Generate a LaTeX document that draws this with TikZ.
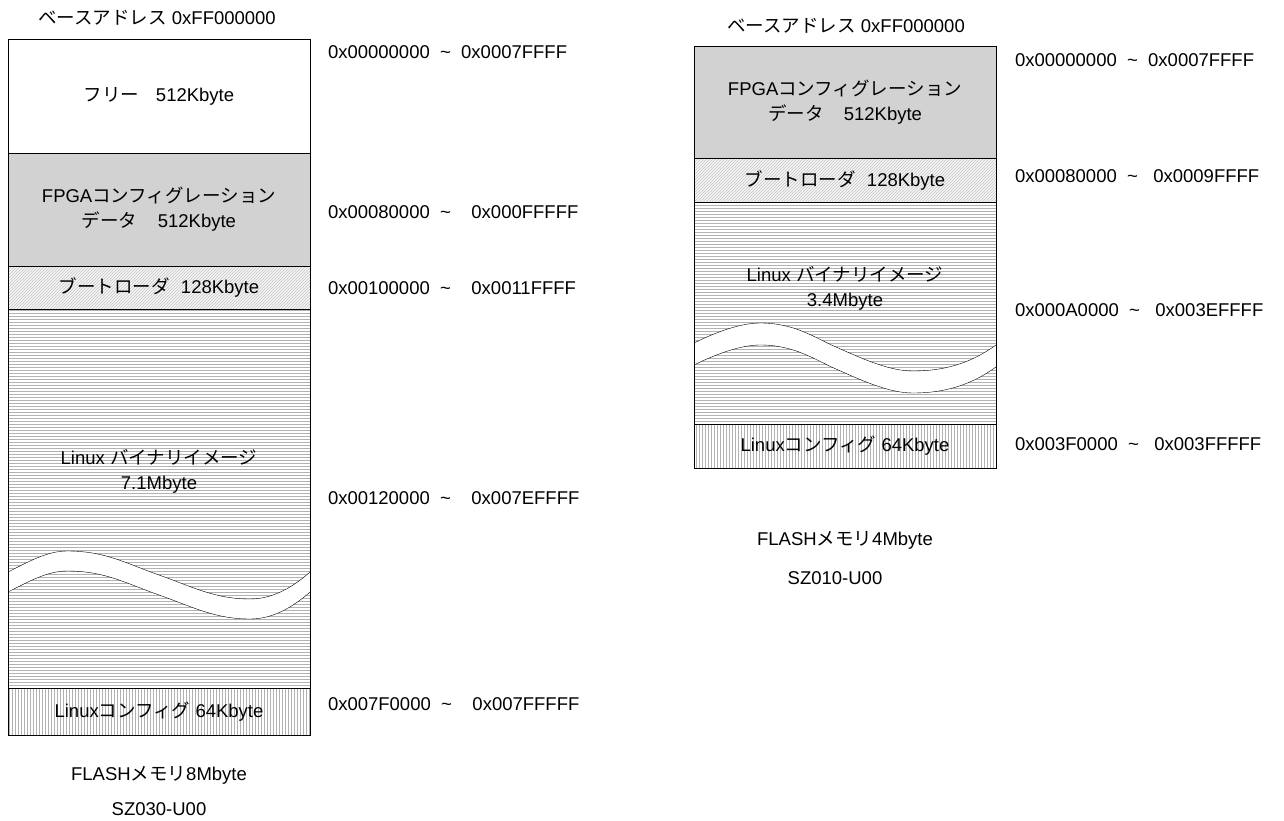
\documentclass[tikz,border=0pt]{standalone}
\usepackage{fontspec}
\setmainfont{Liberation Sans}
\newfontfamily\jp{Noto Sans CJK JP}
\usepackage{tikz}
\usetikzlibrary{patterns}

\begin{document}
\begin{tikzpicture}[
    x=1pt, y=-1pt,
    every node/.style={font=\fontsize{18.5}{25}\selectfont, inner sep=0pt, outer sep=0pt},
    area/.style={rectangle, draw, anchor=north west, minimum width=302pt, minimum height=#1, align=center},
    freearea/.style={fill=white},
    fpgaarea/.style={fill=gray!35},
    bootarea/.style={preaction={fill=gray!8}, pattern=north east lines, pattern color=gray!45},
    imagearea/.style={pattern=horizontal lines, pattern color=gray!60},
    configarea/.style={pattern=vertical lines, pattern color=gray!60},
    addr/.style={anchor=west},
    caption/.style={align=center}
]
    \useasboundingbox (0,0) rectangle (1284,821);

    % 8Mbyte map
    \node[caption] (lbase) at (157,18) {{\jp ベースアドレス} 0xFF000000};
    \node[area=114pt, freearea] (lfree) at (8,39) {{\jp フリー}\hspace{0.9em}512Kbyte};
    \node[area=113pt, fpgaarea] (lfpga) at (8,153) {FPGA{\jp コンフィグレーション}\\{\jp データ}\hspace{1.1em}512Kbyte};
    \node[area=43pt, bootarea] (lboot) at (8,266) {{\jp ブートローダ}\hspace{0.6em}128Kbyte};
    \node[area=379pt, imagearea] (limg) at (8,309) {};
    \node[area=47pt, configarea] (lconf) at (8,688) {Linux{\jp コンフィグ} 64Kbyte};
    \node[caption] (limgtxt) at (159,471) {Linux {\jp バイナリイメージ}\\7.1Mbyte};

    % wave
    \fill[white] (8,572) .. controls (28,562) and (47,551) .. (67,551)
        .. controls (105,551) and (125,563) .. (159,575)
        .. controls (193,587) and (215,599) .. (250,599)
        .. controls (272,599) and (292,588) .. (310,572)
        -- (310,592) .. controls (292,608) and (272,619) .. (250,619)
        .. controls (215,619) and (193,607) .. (159,595)
        .. controls (125,583) and (105,571) .. (67,571)
        .. controls (47,571) and (28,582) .. (8,592) -- cycle;
    \draw (8,572) .. controls (28,562) and (47,551) .. (67,551)
        .. controls (105,551) and (125,563) .. (159,575)
        .. controls (193,587) and (215,599) .. (250,599)
        .. controls (272,599) and (292,588) .. (310,572);
    \draw (8,592) .. controls (28,582) and (47,571) .. (67,571)
        .. controls (105,571) and (125,583) .. (159,595)
        .. controls (193,607) and (215,619) .. (250,619)
        .. controls (272,619) and (292,608) .. (310,592);
    \draw (limg.north west) rectangle (limg.south east);

    \node[addr] (la1) at (328,52) {0x00000000\ \ \textasciitilde\ \ 0x0007FFFF};
    \node[addr] (la2) at (328,212) {0x00080000\ \ \textasciitilde\ \ \ \ 0x000FFFFF};
    \node[addr] (la3) at (328,288) {0x00100000\ \ \textasciitilde\ \ \ \ 0x0011FFFF};
    \node[addr] (la4) at (328,498) {0x00120000\ \ \textasciitilde\ \ \ \ 0x007EFFFF};
    \node[addr] (la5) at (328,704) {0x007F0000\ \ \textasciitilde\ \ \ \ 0x007FFFFF};

    \node[caption] (lflash) at (159,775) {FLASH{\jp メモリ}8Mbyte};
    \node[caption] (lmodel) at (159,809) {SZ030-U00};

    % 4Mbyte map
    \node[caption] (rbase) at (846,26) {{\jp ベースアドレス} 0xFF000000};
    \node[area=112pt, fpgaarea] (rfpga) at (694,46) {FPGA{\jp コンフィグレーション}\\{\jp データ}\hspace{1.1em}512Kbyte};
    \node[area=44pt, bootarea] (rboot) at (694,158) {{\jp ブートローダ}\hspace{0.6em}128Kbyte};
    \node[area=222pt, imagearea] (rimg) at (694,202) {};
    \node[area=44pt, configarea] (rconf) at (694,424) {Linux{\jp コンフィグ} 64Kbyte};
    \node[caption] (rimgtxt) at (845,288) {Linux {\jp バイナリイメージ}\\3.4Mbyte};

    % wave
    \fill[white] (694,343) .. controls (714,333) and (740,323) .. (760,323)
        .. controls (795,323) and (815,338) .. (836,347)
        .. controls (865,360) and (890,371) .. (913,371)
        .. controls (950,371) and (975,360) .. (996,345)
        -- (996,367) .. controls (975,382) and (950,393) .. (913,393)
        .. controls (890,393) and (865,382) .. (836,369)
        .. controls (815,360) and (795,345) .. (760,345)
        .. controls (740,345) and (714,355) .. (694,365) -- cycle;
    \draw (694,343) .. controls (714,333) and (740,323) .. (760,323)
        .. controls (795,323) and (815,338) .. (836,347)
        .. controls (865,360) and (890,371) .. (913,371)
        .. controls (950,371) and (975,360) .. (996,345);
    \draw (694,365) .. controls (714,355) and (740,345) .. (760,345)
        .. controls (795,345) and (815,360) .. (836,369)
        .. controls (865,382) and (890,393) .. (913,393)
        .. controls (950,393) and (975,382) .. (996,367);
    \draw (rimg.north west) rectangle (rimg.south east);

    \node[addr] (ra1) at (1015,60) {0x00000000\ \ \textasciitilde\ \ 0x0007FFFF};
    \node[addr] (ra2) at (1015,176) {0x00080000\ \ \textasciitilde\ \ \ 0x0009FFFF};
    \node[addr] (ra3) at (1015,310) {0x000A0000\ \ \textasciitilde\ \ \ 0x003EFFFF};
    \node[addr] (ra4) at (1015,444) {0x003F0000\ \ \textasciitilde\ \ \ 0x003FFFFF};

    \node[caption] (rflash) at (845,540) {FLASH{\jp メモリ}4Mbyte};
    \node[caption] (rmodel) at (835,578) {SZ010-U00};
\end{tikzpicture}
\end{document}
